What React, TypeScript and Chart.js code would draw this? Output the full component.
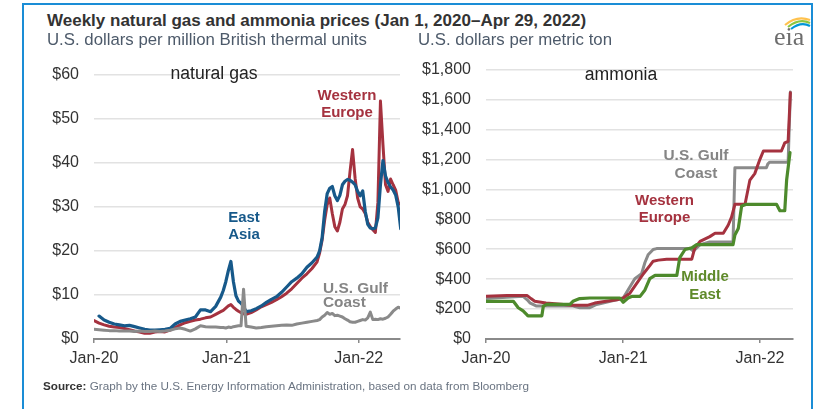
import React, { useEffect, useRef } from "react";
import { Chart, registerables } from "chart.js";
Chart.register(...registerables);

// ---------- data: natural gas (US$/MMBtu), x = days since Jan 1, 2020 ----------
const gasDays = [0, 14, 28, 42, 56, 70, 84, 98, 112, 126, 140, 154, 168, 182, 196, 210, 224, 238, 252, 266, 280, 294, 308, 322, 336, 350,
  357, 364, 371, 378, 385, 392, 399, 406, 413, 420,
  434, 448, 462, 476, 490, 504, 518, 532, 546, 560, 574, 588, 602, 616,
  623, 630, 637, 644, 651, 658, 665, 672, 679, 686, 693, 700, 707, 714, 721, 728, 735, 742, 749, 756, 763, 770, 777, 784, 791, 798, 805, 812, 819, 826, 833, 840, 847];

const eastAsiaGas = [null, 5.2, 4.3, 3.8, 3.4, 3.2, 3.0, 3.1, 2.8, 2.5, 2.2, 2.0, 2.0, 2.1, 2.2, 2.4, 3.4, 4.0, 4.3, 4.6, 5.0, 6.6, 6.6, 6.2, 7.4, 9.5,
  11.0, 13.0, 15.5, 17.6, 13.0, 9.8, 8.6, 8.1, 7.4, 6.2,
  6.4, 6.9, 7.5, 8.3, 9.0, 9.6, 10.6, 11.8, 13.0, 13.8, 14.8, 16.3, 17.3, 18.6,
  20.0, 23.0, 29.0, 33.0, 34.2, 34.6, 32.5, 31.4, 32.6, 35.0, 35.8, 36.2, 36.0, 35.6, 35.0, 33.5, 32.5, 33.6, 29.0, 26.0, 25.2, 25.0, 25.2, 27.5, 35.0, 40.5, 37.0, 35.5, 34.5, 33.8, 32.7, 30.0, 25.0];

const westernEuropeGas = [4.2, 3.6, 3.2, 2.9, 2.7, 2.6, 2.4, 2.1, 1.8, 1.6, 1.3, 1.3, 1.6, 1.7, 1.6, 2.0, 2.6, 3.2, 3.7, 4.0, 4.3, 4.5, 4.8, 5.0, 5.6, 6.2,
  6.5, 7.0, 7.5, 7.8, 7.2, 6.7, 6.3, 6.0, 5.7, 5.6,
  6.0, 6.6, 7.3, 7.8, 8.3, 8.9, 9.6, 10.4, 11.4, 12.6, 13.8, 14.8, 16.0, 17.5,
  19.5, 22.5, 27.0, 30.5, 32.0, 28.5, 25.5, 24.5, 26.5, 29.5, 30.5, 32.5, 38.0, 43.0, 36.5, 32.0, 30.0, 29.5, 28.5, 26.5, 25.5, 24.8, 24.2, 31.0, 54.0, 44.0, 35.0, 33.5, 36.3, 35.0, 33.8, 31.0, 30.5];

const gulfCoastGas = [2.2, 2.1, 2.0, 1.9, 1.9, 1.8, 1.8, 1.8, 1.7, 1.8, 1.7, 1.7, 1.8, 1.7, 1.8, 2.0, 2.3, 2.5, 2.2, 1.8, 2.3, 3.0, 2.8, 2.7, 2.7, 2.6,
  2.6, 2.5, 2.7, 2.6, 2.8, 2.9, 3.0, 3.0, 11.3, 2.9,
  2.7, 2.5, 2.6, 2.8, 2.9, 3.0, 3.1, 3.2, 3.1, 3.4, 3.6, 3.8, 4.0, 4.2,
  4.4, 5.0, 5.4, 6.0, 5.6, 5.8, 5.3, 5.4, 5.2, 5.0, 4.6, 4.3, 3.9, 3.8, 3.8, 4.0, 4.2, 4.4, 4.3, 4.8, 6.1, 4.4, 4.5, 4.4, 4.6, 4.5, 4.7, 5.0, 5.6, 6.3, 6.8, 7.2, 7.0];

// ---------- data: ammonia (US$/metric ton) ----------
const westernEuropeAmmDays = [0, 56, 110, 120, 130, 160, 200, 230, 270, 290, 320, 350, 366, 384, 402, 420, 437, 446, 460, 482, 549, 557, 571, 597, 611, 633, 646, 655, 664, 691, 704, 717, 731, 740, 788, 797, 806, 812];
const westernEuropeAmm = [285, 290, 290, 270, 252, 240, 232, 225, 225, 240, 252, 262, 274, 306, 371, 436, 490, 520, 527, 533, 533, 609, 652, 684, 706, 706, 760, 814, 900, 900, 1062, 1105, 1202, 1256, 1256, 1310, 1321, 1645];

const gulfCoastAmmDays = [0, 99, 110, 117, 135, 232, 250, 277, 295, 340, 366, 397, 415, 424, 433, 446, 455, 544, 553, 571, 597, 659, 664, 748, 752, 757, 806, 812];
const gulfCoastAmm = [270, 285, 262, 242, 220, 220, 209, 209, 231, 257, 274, 403, 436, 511, 565, 598, 604, 604, 587, 630, 648, 648, 1144, 1144, 1170, 1181, 1181, 1650];

const middleEastAmmDays = [0, 73, 86, 99, 112, 149, 153, 162, 224, 232, 250, 277, 357, 366, 379, 390, 411, 424, 437, 451, 509, 517, 531, 549, 562, 659, 664, 673, 682, 695, 775, 784, 797, 802, 811];
const middleEastAmm = [252, 252, 209, 188, 155, 155, 220, 231, 231, 252, 270, 274, 274, 246, 274, 285, 285, 328, 403, 425, 425, 544, 598, 609, 630, 630, 695, 738, 889, 900, 900, 857, 857, 1062, 1245];

// ---------- tick labels ----------
const xTickDays = [0, 366, 731];
const xTickLabels = ["Jan-20", "Jan-21", "Jan-22"];
const gasTickLabels = ["$0", "$10", "$20", "$30", "$40", "$50", "$60"];
const ammoniaTickLabels = ["$0", "$200", "$400", "$600", "$800", "$1,000", "$1,200", "$1,400", "$1,600", "$1,800"];

// ---------- styling ----------
const FONT = "'Liberation Sans', Arial, Helvetica, sans-serif";
const BLUE = "#17598a";
const RED = "#a5323f";
const GRAY = "#8a8a8a";
const GREEN = "#4d8a2c";

const pts = (days: number[], vals: (number | null)[]) => days.map((d, i) => ({ x: d, y: vals[i] }));

function buildChart(canvas: HTMLCanvasElement, cfg: any) {
  return new Chart(canvas, {
    type: "line",
    data: { datasets: cfg.datasets },
    options: {
      animation: false,
      responsive: false,
      maintainAspectRatio: false,
      devicePixelRatio: 1,
      layout: { padding: cfg.padding },
      plugins: { legend: { display: false }, tooltip: { enabled: false }, title: { display: false } },
      elements: { point: { radius: 0 }, line: { tension: 0, borderJoinStyle: "round", borderCapStyle: "round" } },
      scales: {
        x: {
          type: "linear",
          min: 0,
          max: cfg.xMax,
          afterBuildTicks: (s: any) => { s.ticks = xTickDays.map((v) => ({ value: v })); },
          afterFit: (s: any) => { s.height = 41; },
          grid: { display: true, drawOnChartArea: false, drawTicks: true, tickLength: 4, color: "#8a8a8a", lineWidth: 1.5 },
          border: { display: true, color: "#8a8a8a", width: 2 },
          ticks: {
            autoSkip: false, maxRotation: 0, padding: 6, color: "#333",
            font: { family: FONT, size: 16 },
            callback: (v: any) => xTickLabels[xTickDays.indexOf(Number(v))] ?? "",
          },
        },
        y: {
          min: 0,
          max: cfg.yMax,
          afterFit: (s: any) => { s.width = cfg.yWidth; },
          grid: { color: "#e2e2e2", lineWidth: 1.5, drawTicks: false },
          border: { display: false },
          ticks: {
            stepSize: cfg.yStep, padding: 15, color: "#333",
            font: { family: FONT, size: 16 },
            callback: (v: any) => cfg.yLabels[Math.round(Number(v) / cfg.yStep)] ?? "",
          },
        },
      },
    } as any,
  });
}

const Txt = ({ text, x, base, size, weight = 400, color, center = false }: any) => (
  <div
    style={{
      position: "absolute", left: x, top: base - 0.8465 * size, fontSize: size, lineHeight: `${size}px`,
      fontWeight: weight, color, whiteSpace: "nowrap", fontFamily: FONT,
      transform: center ? "translateX(-50%)" : undefined,
    }}
  >
    {text}
  </div>
);

export default function App() {
  const gasRef = useRef<HTMLCanvasElement>(null);
  const ammRef = useRef<HTMLCanvasElement>(null);

  useEffect(() => {
    const c1 = buildChart(gasRef.current!, {
      padding: { top: 16, right: 15, left: 0, bottom: 0 },
      yWidth: 64, xMax: 845, yMax: 60, yStep: 10, yLabels: gasTickLabels,
      datasets: [
        { data: pts(gasDays, gulfCoastGas), borderColor: GRAY, borderWidth: 3 },
        { data: pts(gasDays, eastAsiaGas), borderColor: BLUE, borderWidth: 3.2 },
        { data: pts(gasDays, westernEuropeGas), borderColor: RED, borderWidth: 3 },
      ],
    });
    const c2 = buildChart(ammRef.current!, {
      padding: { top: 16, right: 17, left: 0, bottom: 0 },
      yWidth: 71, xMax: 819, yMax: 1800, yStep: 200, yLabels: ammoniaTickLabels,
      datasets: [
        { data: pts(middleEastAmmDays, middleEastAmm), borderColor: GREEN, borderWidth: 3.2 },
        { data: pts(westernEuropeAmmDays, westernEuropeAmm), borderColor: RED, borderWidth: 3 },
        { data: pts(gulfCoastAmmDays, gulfCoastAmm), borderColor: GRAY, borderWidth: 3 },
      ],
    });
    return () => { c1.destroy(); c2.destroy(); };
  }, []);

  return (
    <div style={{ position: "fixed", left: 0, top: 0, width: 818, height: 409, background: "#fff", overflow: "hidden", fontFamily: FONT }}>
      <div style={{ position: "absolute", left: 22, top: 3, width: 787, height: 440, border: "2px solid #1a8dd6", borderBottom: "none" }} />

      <canvas ref={gasRef} width={385} height={330} style={{ position: "absolute", left: 30, top: 50, width: 385, height: 330 }} />
      <canvas ref={ammRef} width={395} height={335} style={{ position: "absolute", left: 415, top: 45, width: 395, height: 335 }} />

      <Txt text="Weekly natural gas and ammonia prices (Jan 1, 2020–Apr 29, 2022)" x={47} base={26.7} size={17} weight={700} color="#333" />
      <Txt text="U.S. dollars per million British thermal units" x={47} base={46.5} size={16.8} color="#4d5a6a" />
      <Txt text="U.S. dollars per metric ton" x={418} base={46.5} size={16.8} color="#4d5a6a" />

      <Txt text="natural gas" x={214} base={80} size={17.6} color="#222" center />
      <Txt text="ammonia" x={621} base={81} size={17.6} color="#222" center />

      <Txt text="Western" x={347} base={100} size={15} weight={700} color={RED} center />
      <Txt text="Europe" x={347} base={116.8} size={15} weight={700} color={RED} center />
      <Txt text="East" x={244} base={221.7} size={15} weight={700} color={BLUE} center />
      <Txt text="Asia" x={244} base={238.3} size={15} weight={700} color={BLUE} center />
      <Txt text="U.S. Gulf" x={323} base={293.3} size={15.4} weight={700} color="#858585" />
      <Txt text="Coast" x={323} base={306.8} size={15.4} weight={700} color="#858585" />

      <Txt text="U.S. Gulf" x={696} base={160} size={15.4} weight={700} color="#858585" center />
      <Txt text="Coast" x={696} base={178} size={15.4} weight={700} color="#858585" center />
      <Txt text="Western" x={664.5} base={205} size={15} weight={700} color={RED} center />
      <Txt text="Europe" x={664.5} base={221.5} size={15} weight={700} color={RED} center />
      <Txt text="Middle" x={705} base={281} size={15} weight={700} color="#5f8a2a" center />
      <Txt text="East" x={705} base={298.3} size={15} weight={700} color="#5f8a2a" center />

      <div style={{ position: "absolute", left: 43, top: 390 - 0.8465 * 11.7, fontSize: 11.7, lineHeight: "11.7px", whiteSpace: "nowrap", color: "#6a7482", fontFamily: FONT }}>
        <span style={{ fontWeight: 700, color: "#333" }}>Source:</span> Graph by the U.S. Energy Information Administration, based on data from Bloomberg
      </div>

      <svg style={{ position: "absolute", left: 770, top: 14 }} width={44} height={36}>
        <path d="M15 11 Q 27 1 40 6" stroke="#ffc24e" strokeWidth={2.2} fill="none" />
        <path d="M18 13 Q 29 4 40 9" stroke="#8dc63f" strokeWidth={2.2} fill="none" />
        <path d="M21 15 Q 31 7 40 12" stroke="#0096d7" strokeWidth={2.2} fill="none" />
        <text x={4} y={31} fontFamily="'Liberation Serif', 'DejaVu Serif', serif" fontSize={26} fill="#6d6d6d">eia</text>
      </svg>
    </div>
  );
}
